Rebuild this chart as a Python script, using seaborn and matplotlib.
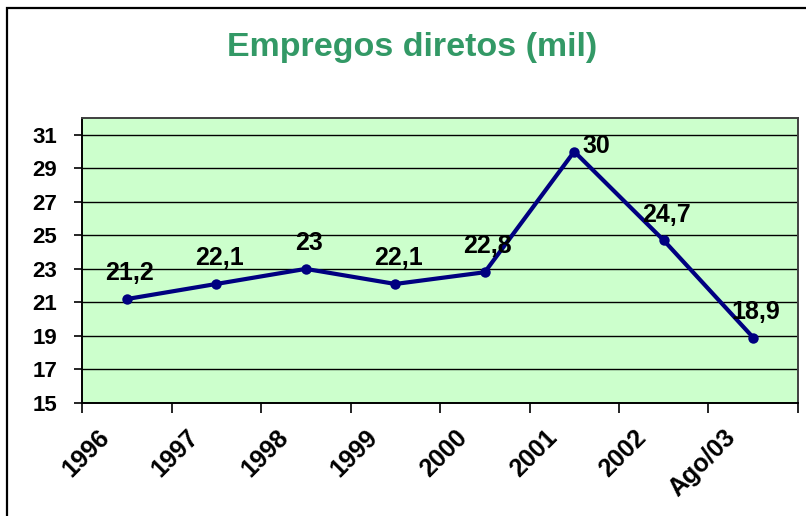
"""
Empregos diretos (mil) - line chart with data labels.
"""
import matplotlib
matplotlib.use("Agg")
import matplotlib.pyplot as plt
import matplotlib.transforms as mtransforms
from matplotlib.patches import Rectangle
from matplotlib.ticker import FixedLocator, MultipleLocator
import seaborn as sns
import pandas as pd

# data
periods = ["1996", "1997", "1998", "1999", "2000", "2001", "2002", "Ago/03"]
jobs = [21.2, 22.1, 23.0, 22.1, 22.8, 30.0, 24.7, 18.9]
value_labels = ["21,2", "22,1", "23", "22,1", "22,8", "30", "24,7", "18,9"]

df = pd.DataFrame({"periodo": periods, "empregos": jobs})

sns.set_theme(style="white")
plt.rcParams["font.family"] = ["Liberation Sans", "DejaVu Sans"]
plt.rcParams["font.weight"] = "bold"
plt.rcParams["text.color"] = "black"
plt.rcParams["xtick.color"] = "black"
plt.rcParams["ytick.color"] = "black"

fig = plt.figure(figsize=(8.06, 5.16), dpi=100)
ax = fig.add_axes([82 / 806, 1 - 403 / 516, (798 - 82) / 806, (403 - 118) / 516])
ax.set_facecolor("#CCFFCC")

# outer chart frame (cropped on the right and bottom)
fig.patches.append(Rectangle((7 / 806, -0.1), 1.2, 1 - 8 / 516 + 0.1,
                             transform=fig.transFigure, fill=False,
                             edgecolor="black", linewidth=1.6))

sns.lineplot(data=df, x="periodo", y="empregos", ax=ax, color="#000080",
             linewidth=3.0, marker="o", markersize=7.5, markeredgewidth=0,
             zorder=3)

ax.set_xlim(-0.5, len(periods) - 0.5)
ax.set_ylim(15, 32)
ax.yaxis.set_major_locator(FixedLocator(range(15, 32, 2)))
ax.grid(axis="y", color="black", linewidth=1.0)
ax.set_axisbelow(True)

# category boundaries as minor ticks, labels at centres
ax.xaxis.set_minor_locator(MultipleLocator(1, offset=0.5))
ax.tick_params(axis="x", which="major", length=0, pad=6)
ax.tick_params(axis="x", which="minor", length=7, width=1.2, color="black",
               direction="out", bottom=True)
ax.tick_params(axis="y", which="major", length=6, width=1.2, color="black",
               direction="out", left=True, labelsize=16, pad=12)
ax.set_xticks(range(len(periods)))
ax.set_xticklabels(periods, fontsize=18, fontweight="bold", rotation=45,
                   ha="right", va="center", rotation_mode="anchor")
shift = mtransforms.ScaledTranslation(-21 / 100, -22 / 100, fig.dpi_scale_trans)
for lbl in ax.get_xticklabels():
    lbl.set_transform(lbl.get_transform() + shift)
for lbl in ax.get_yticklabels():
    lbl.set_fontweight("bold")

for side in ["left", "bottom"]:
    ax.spines[side].set_color("black")
    ax.spines[side].set_linewidth(1.4)
for side in ["top", "right"]:
    ax.spines[side].set_color("#404040")
    ax.spines[side].set_linewidth(1.4)

# data labels
for i, (v, txt) in enumerate(zip(jobs, value_labels)):
    if txt == "30":
        ax.annotate(txt, (i, v), xytext=(6, 4), textcoords="offset points",
                    ha="left", va="center", fontsize=18, fontweight="bold")
    else:
        ax.annotate(txt, (i, v), xytext=(2, 13.5), textcoords="offset points",
                    ha="center", va="baseline", fontsize=18, fontweight="bold")

ax.set_xlabel("")
ax.set_ylabel("")
fig.text(412 / 806, 1 - 48 / 516, "Empregos diretos (mil)", ha="center",
         va="center", fontsize=24.5, fontweight="bold", color="#339966")

fig.savefig("out.png", dpi=100)
